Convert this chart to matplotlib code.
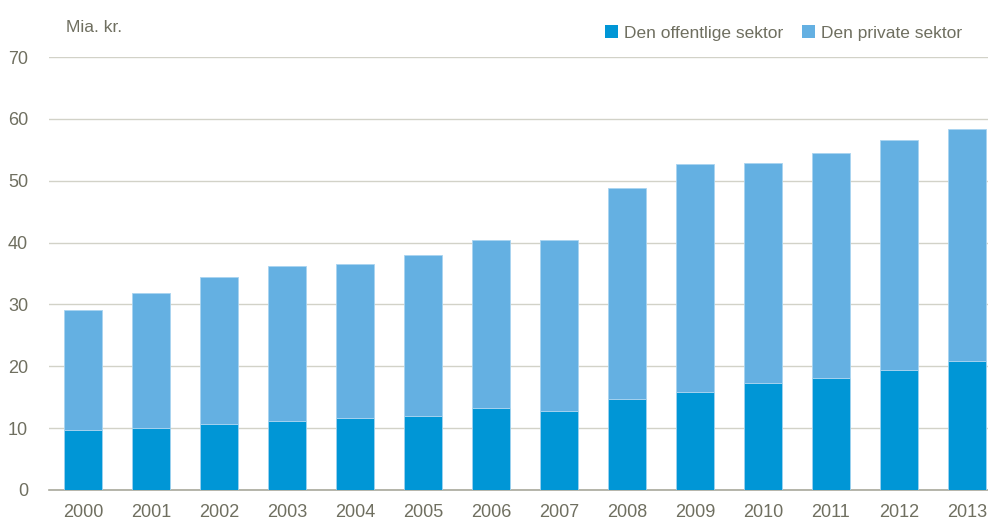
import matplotlib
matplotlib.use("Agg")
import matplotlib.pyplot as plt
from matplotlib import font_manager

years = ["2000", "2001", "2002", "2003", "2004", "2005", "2006",
         "2007", "2008", "2009", "2010", "2011", "2012", "2013"]
public = [9.7, 10.0, 10.7, 11.2, 11.6, 12.0, 13.3, 12.8, 14.7, 15.8, 17.3, 18.1, 19.4, 20.9]
total = [29.1, 31.8, 34.4, 36.2, 36.5, 38.0, 40.4, 40.4, 48.8, 52.7, 52.9, 54.5, 56.6, 58.4]
private = [t - p for t, p in zip(total, public)]
yticks = [0, 10, 20, 30, 40, 50, 60, 70]
labels = ["Den offentlige sektor", "Den private sektor"]

names = {f.name for f in font_manager.fontManager.ttflist}
fam = "Liberation Sans Narrow" if "Liberation Sans Narrow" in names else "Liberation Sans"
plt.rcParams["font.family"] = [fam, "DejaVu Sans"]

txt = "#6f6f60"
c_pub = "#0096d6"
c_priv = "#64b0e2"

fig = plt.figure(figsize=(9.88, 5.32), dpi=100)
ax = fig.add_axes([49/988, 42/532, 952/988, 433/532])

x = list(range(len(years)))
ax.bar(x, public, width=0.56, color=c_pub, edgecolor="#9fd2ef", linewidth=0.6, zorder=3, label=labels[0])
ax.bar(x, private, bottom=public, width=0.56, color=c_priv, edgecolor="#a9d4f0", linewidth=0.6, zorder=3, label=labels[1])

ax.set_xlim(-0.5, len(years) - 0.5)
ax.set_ylim(0, 70)
ax.set_yticks(yticks)
ax.set_yticklabels([str(v) for v in yticks])
ax.set_xticks(x)
ax.set_xticklabels(years)
ax.grid(axis="y", color="#d2d2c8", linewidth=1.0, zorder=0)
for s in ["top", "right", "left"]:
    ax.spines[s].set_visible(False)
ax.spines["bottom"].set_color("#a8a89c")
ax.spines["bottom"].set_linewidth(1.2)
ax.tick_params(axis="both", length=0, labelsize=13, colors=txt)
ax.tick_params(axis="y", pad=15)
ax.tick_params(axis="x", pad=10)

fig.text(66/988, 1 - 28/532, "Mia. kr.", fontsize=12.5, color=txt, ha="left", va="center")

leg = fig.legend(loc="center left", bbox_to_anchor=(598/988, 1 - 33/532), ncol=2, frameon=False,
                 fontsize=12.5, labelcolor=txt, handlelength=0.75, handleheight=0.75,
                 handletextpad=0.35, columnspacing=1.1, borderaxespad=0)
for h in leg.legend_handles:
    h.set_edgecolor("none")

fig.savefig("out.png", dpi=100)
